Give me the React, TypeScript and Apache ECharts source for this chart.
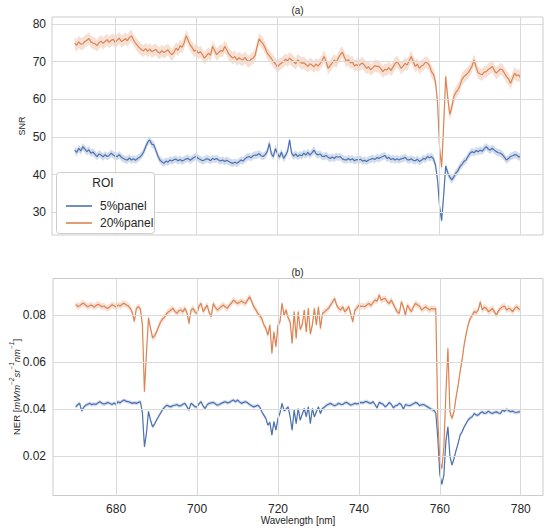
import React, { useEffect, useRef } from "react";
import * as echarts from "echarts";

const WAVELENGTH = [
  670, 670.5, 671, 671.5, 672, 672.5, 673, 673.5, 674, 674.5,
  675, 675.5, 676, 676.5, 677, 677.5, 678, 678.5, 679, 679.5,
  680, 680.5, 681, 681.5, 682, 682.5, 683, 683.5, 684, 684.5,
  685, 685.5, 686, 686.5, 687, 687.5, 688, 688.5, 689, 689.5,
  690, 690.5, 691, 691.5, 692, 692.5, 693, 693.5, 694, 694.5,
  695, 695.5, 696, 696.5, 697, 697.5, 698, 698.5, 699, 699.5,
  700, 700.5, 701, 701.5, 702, 702.5, 703, 703.5, 704, 704.5,
  705, 705.5, 706, 706.5, 707, 707.5, 708, 708.5, 709, 709.5,
  710, 710.5, 711, 711.5, 712, 712.5, 713, 713.5, 714, 714.5,
  715, 715.5, 716, 716.5, 717, 717.5, 718, 718.5, 719, 719.5,
  720, 720.5, 721, 721.5, 722, 722.5, 723, 723.5, 724, 724.5,
  725, 725.5, 726, 726.5, 727, 727.5, 728, 728.5, 729, 729.5,
  730, 730.5, 731, 731.5, 732, 732.5, 733, 733.5, 734, 734.5,
  735, 735.5, 736, 736.5, 737, 737.5, 738, 738.5, 739, 739.5,
  740, 740.5, 741, 741.5, 742, 742.5, 743, 743.5, 744, 744.5,
  745, 745.5, 746, 746.5, 747, 747.5, 748, 748.5, 749, 749.5,
  750, 750.5, 751, 751.5, 752, 752.5, 753, 753.5, 754, 754.5,
  755, 755.5, 756, 756.5, 757, 757.5, 758, 758.5, 759, 759.5,
  760, 760.5, 761, 761.5, 762, 762.5, 763, 763.5, 764, 764.5,
  765, 765.5, 766, 766.5, 767, 767.5, 768, 768.5, 769, 769.5,
  770, 770.5, 771, 771.5, 772, 772.5, 773, 773.5, 774, 774.5,
  775, 775.5, 776, 776.5, 777, 777.5, 778, 778.5, 779, 779.5,
  780,
];

const SNR_20 = [
  74.9, 74.3, 75.2, 74.6, 74.7, 75.3, 75.6, 76.1, 75.2, 74.9,
  74.7, 74.2, 75.0, 75.4, 74.8, 75.3, 75.8, 75.1, 75.6, 75.9,
  75.0, 75.7, 76.2, 75.3, 75.6, 76.1, 75.5, 76.4, 76.8, 75.7,
  74.9, 74.2, 73.6, 73.1, 72.8, 73.4, 72.7, 73.3, 72.6, 72.9,
  73.2, 72.5, 72.2, 72.9, 72.4, 72.7, 73.1, 72.3, 71.8, 72.5,
  73.5, 73.0, 74.2, 73.8, 75.0, 76.8, 75.6, 74.4, 73.6, 72.7,
  73.1, 72.2, 72.6, 71.8, 70.9, 71.5, 72.2, 71.6, 74.0, 73.0,
  71.8, 72.4, 72.9, 72.7, 74.0, 73.1, 72.0, 71.4, 70.9, 71.3,
  70.4, 71.0, 70.6, 70.4, 71.1, 70.3, 70.0, 70.6, 70.9, 71.6,
  74.0, 76.0, 75.2, 74.6, 73.5, 72.2, 71.5, 70.8, 70.0, 69.4,
  68.5, 69.2, 69.6, 70.0, 70.6, 70.2, 70.9, 70.4, 70.0, 69.4,
  70.4, 70.0, 69.5, 69.7, 69.2, 68.7, 69.4, 69.1, 68.6, 69.3,
  68.8, 69.4, 70.2, 71.3, 70.1, 68.2, 68.9, 69.6, 70.4, 69.8,
  70.9, 71.8, 72.5, 71.2, 70.0, 70.5, 69.6, 69.9, 68.8, 69.2,
  68.8, 69.3, 69.6, 68.9, 68.2, 68.6, 67.8, 68.3, 68.9, 68.7,
  68.7, 68.1, 67.3, 67.9, 67.8, 68.4, 67.6, 68.5, 69.4, 70.0,
  69.2, 68.2, 68.8, 69.5, 69.1, 70.2, 71.3, 70.0, 68.7, 69.3,
  68.2, 68.8, 69.1, 69.8, 69.6, 68.9, 67.3, 66.5, 64.5, 59.0,
  47.0, 42.0, 53.0, 66.0, 60.5, 56.0, 57.8, 60.7, 61.8, 62.5,
  63.6, 65.2, 66.0, 66.5, 67.0, 67.8, 68.8, 70.4, 68.5, 67.0,
  66.7, 66.5, 67.2, 67.3, 67.9, 68.2, 68.7, 67.6, 66.9, 67.5,
  68.0, 67.8, 66.9, 66.0, 65.4, 64.2, 65.6, 66.9, 66.2, 66.5,
  65.6,
];

const SNR_5 = [
  46.5, 45.9, 47.0, 46.3, 47.4, 46.8, 46.1, 46.6, 45.7, 46.0,
  45.4, 44.8, 45.5, 45.2, 44.7, 45.3, 44.8, 45.1, 45.7, 45.2,
  44.9, 44.8, 45.3, 44.6, 44.3, 44.0, 43.9, 44.4, 43.9, 44.2,
  43.8, 44.3, 44.6, 45.2, 46.0, 47.4, 48.6, 49.2, 48.1, 47.9,
  46.5, 45.0, 43.9, 43.4, 43.0, 43.6, 43.3, 43.9, 43.6, 44.0,
  44.1, 43.7, 44.0, 43.6, 43.9, 44.2, 44.3, 43.8, 44.2, 44.6,
  44.8, 44.3, 44.0, 43.7, 43.9, 44.2, 44.1, 43.7, 44.3, 44.0,
  44.3, 43.9, 43.6, 43.9, 43.5, 43.8, 43.5, 43.2, 43.0, 43.3,
  43.0, 43.4, 43.9, 43.6, 44.2, 44.6, 44.8, 44.5, 45.0, 45.2,
  45.2, 45.6, 45.0, 44.8, 45.3, 46.1, 48.3, 45.5, 44.8, 46.9,
  45.7, 44.6, 46.0, 44.3, 45.1, 46.2, 49.2, 45.7, 44.9, 45.5,
  44.8, 45.3, 45.0, 45.7, 45.2, 45.9, 45.2, 45.8, 46.5, 45.6,
  45.2, 45.5, 44.9, 44.8, 45.1, 44.6, 44.3, 44.7, 44.3, 44.8,
  44.6, 44.8, 44.2, 44.0, 43.9, 44.3, 43.9, 44.2, 43.7, 44.0,
  43.9, 44.1, 43.6, 43.8, 43.5, 43.9, 44.1, 44.3, 44.0, 44.5,
  44.3, 44.6, 44.8, 45.1, 44.3, 44.6, 44.0, 44.3, 43.9, 44.2,
  43.9, 44.2, 44.3, 44.6, 44.0, 43.9, 44.2, 43.8, 43.7, 44.1,
  43.5, 43.8, 44.3, 44.1, 44.8, 44.5, 44.8, 44.2, 42.5, 38.5,
  31.5, 27.8, 34.5, 42.3, 40.5, 39.4, 38.6, 39.4, 40.4, 41.0,
  42.1, 42.7, 43.5, 43.9, 44.8, 45.7, 46.1, 45.8, 46.4, 46.1,
  46.5, 46.2, 46.9, 47.4, 46.8, 46.5, 47.0, 46.5, 46.1, 45.8,
  45.7, 45.3, 44.6, 43.9, 44.3, 44.8, 45.0, 45.3, 45.2, 44.7,
  44.8,
];

const NER_20 = [
  0.0847, 0.0838, 0.0841, 0.0849, 0.0851, 0.0843, 0.0837, 0.0842, 0.0844, 0.0835,
  0.0841, 0.0847, 0.0843, 0.0837, 0.084, 0.0833, 0.083, 0.0838, 0.0845, 0.0841,
  0.0836, 0.0844, 0.084, 0.0848, 0.0851, 0.0845, 0.0841, 0.083, 0.0812, 0.0775,
  0.083, 0.0837, 0.0828, 0.076, 0.0475, 0.064, 0.079, 0.0745, 0.0705, 0.0712,
  0.073, 0.0752, 0.0773, 0.0785, 0.0794, 0.0808, 0.0816, 0.0822, 0.083, 0.0818,
  0.0809, 0.082, 0.0823, 0.0815, 0.083, 0.0812, 0.0766, 0.0822, 0.083, 0.0815,
  0.0809, 0.084, 0.0851, 0.0816, 0.083, 0.0844, 0.0812, 0.0794, 0.0851, 0.0835,
  0.0823, 0.083, 0.0838, 0.0844, 0.0836, 0.083, 0.0844, 0.0852, 0.0865, 0.0858,
  0.0851, 0.0856, 0.0861, 0.0855, 0.0851, 0.0866, 0.0879, 0.086, 0.0837, 0.0825,
  0.0809, 0.0798, 0.0787, 0.076, 0.0745, 0.0716, 0.0759, 0.0638, 0.073, 0.0667,
  0.0759, 0.0773, 0.0851, 0.0801, 0.0823, 0.079, 0.0773, 0.0681, 0.0816, 0.0702,
  0.0816, 0.074, 0.076, 0.0823, 0.073, 0.083, 0.072, 0.076, 0.083, 0.0759,
  0.0837, 0.0745, 0.0809, 0.0815, 0.0823, 0.083, 0.0844, 0.0858, 0.0872, 0.0844,
  0.083, 0.0823, 0.0837, 0.0816, 0.0825, 0.0837, 0.0805, 0.0773, 0.0823, 0.083,
  0.0844, 0.0838, 0.084, 0.0837, 0.0845, 0.0851, 0.0842, 0.0855, 0.0865, 0.086,
  0.0887, 0.0865, 0.087, 0.0872, 0.0858, 0.0851, 0.0865, 0.0848, 0.083, 0.0815,
  0.0809, 0.0858, 0.0835, 0.0801, 0.0844, 0.0828, 0.0816, 0.0838, 0.0851, 0.0844,
  0.084, 0.0823, 0.083, 0.0837, 0.0829, 0.0823, 0.083, 0.0826, 0.083, 0.036,
  0.018, 0.0149, 0.024, 0.047, 0.066, 0.039, 0.0362, 0.039, 0.045, 0.05,
  0.056, 0.061, 0.0674, 0.072, 0.076, 0.0787, 0.08, 0.0816, 0.0812, 0.0823,
  0.0858, 0.0823, 0.0835, 0.083, 0.0816, 0.0822, 0.083, 0.0815, 0.0801, 0.082,
  0.083, 0.0837, 0.084, 0.0823, 0.083, 0.0826, 0.0816, 0.083, 0.0837, 0.0828,
  0.0823,
];

const NER_5 = [
  0.0411, 0.042, 0.0426, 0.0393, 0.041, 0.0418, 0.0422, 0.0426, 0.042, 0.0424,
  0.0421, 0.0428, 0.0433, 0.0426, 0.0423, 0.0426, 0.043, 0.0425, 0.0421, 0.0428,
  0.0421, 0.0433, 0.0428, 0.0436, 0.044, 0.0434, 0.0433, 0.043, 0.0426, 0.0429,
  0.0426, 0.043, 0.0433, 0.0385, 0.0241, 0.03, 0.0392, 0.0355, 0.0326, 0.0338,
  0.0355, 0.037, 0.0385, 0.04, 0.041, 0.0418, 0.0414, 0.0411, 0.0416, 0.0418,
  0.0421, 0.0415, 0.0416, 0.0422, 0.0426, 0.0412, 0.0397, 0.0426, 0.042, 0.0411,
  0.0411, 0.0425, 0.0433, 0.0415, 0.0404, 0.042, 0.0426, 0.0428, 0.043, 0.0424,
  0.0418, 0.0421, 0.0426, 0.043, 0.0433, 0.0428, 0.043, 0.0436, 0.044, 0.0432,
  0.044, 0.0432, 0.0426, 0.043, 0.0433, 0.0428, 0.0421, 0.0416, 0.0411, 0.0414,
  0.0418, 0.041, 0.039, 0.0376, 0.0362, 0.0333, 0.0345, 0.0291, 0.0348, 0.0312,
  0.0362, 0.0385, 0.0426, 0.0395, 0.04, 0.0411, 0.0369, 0.0312, 0.0397, 0.034,
  0.0404, 0.0355, 0.038, 0.0404, 0.0369, 0.0411, 0.034, 0.0404, 0.0369, 0.039,
  0.0411, 0.0383, 0.0404, 0.041, 0.0418, 0.0422, 0.0426, 0.042, 0.0416, 0.042,
  0.0426, 0.0422, 0.0421, 0.0428, 0.043, 0.0424, 0.0418, 0.0422, 0.0426, 0.0424,
  0.0426, 0.043, 0.0428, 0.0433, 0.0433, 0.0428, 0.0426, 0.0433, 0.042, 0.0407,
  0.043, 0.0426, 0.0422, 0.0411, 0.0418, 0.043, 0.0422, 0.0407, 0.0415, 0.0418,
  0.0426, 0.042, 0.0401, 0.0421, 0.0418, 0.0416, 0.042, 0.0424, 0.043, 0.0426,
  0.0416, 0.042, 0.0421, 0.0416, 0.0411, 0.0405, 0.04, 0.0397, 0.0385, 0.028,
  0.0125, 0.0081, 0.012, 0.0265, 0.0326, 0.02, 0.0163, 0.0191, 0.0225, 0.0255,
  0.029, 0.0305, 0.0325, 0.034, 0.0355, 0.0364, 0.0369, 0.0383, 0.0376, 0.0376,
  0.0385, 0.039, 0.0383, 0.0385, 0.0393, 0.0386, 0.0383, 0.0388, 0.039, 0.0385,
  0.0383, 0.0397, 0.0392, 0.0401, 0.0395, 0.039, 0.0393, 0.0388, 0.0387, 0.039,
  0.039,
];

// half-widths of the shaded confidence bands
const SNR_5_CI = 1.0;
const SNR_20_CI = 1.6;
const NER_5_CI = 0.0008;
const NER_20_CI = 0.0014;

const X_TICKS = [680, 700, 720, 740, 760, 780];
const SNR_TICKS = [30, 40, 50, 60, 70, 80];
const NER_TICKS = [0.02, 0.04, 0.06, 0.08];
const SERIES_NAMES = ["5%panel", "20%panel"];
const PANEL_TITLES = ["(a)", "(b)"];

const BLUE = "#4c72b0";
const ORANGE = "#dd8452";
const BLUE_BAND = "rgba(76,114,176,0.25)";
const ORANGE_BAND = "rgba(221,132,82,0.25)";
const GRID_COLOR = "#dadada";
const TEXT = "#262626";
const FONT = "'Liberation Sans', Arial, Helvetica, sans-serif";

const pairs = (vals: number[]) => WAVELENGTH.map((x, i) => [x, vals[i]]);

function bandSeries(vals: number[], ci: number, color: string, axis: number) {
  return {
    type: "custom",
    name: "band",
    xAxisIndex: axis,
    yAxisIndex: axis,
    data: [[WAVELENGTH[0], vals[0]]],
    silent: true,
    clip: true,
    z: 1,
    renderItem: (_params: any, api: any) => {
      const upper = WAVELENGTH.map((x, i) => api.coord([x, vals[i] + ci]));
      const lower = WAVELENGTH.map((x, i) => api.coord([x, vals[i] - ci])).reverse();
      return {
        type: "polygon",
        silent: true,
        shape: { points: upper.concat(lower) },
        style: { fill: color, stroke: "none" },
      };
    },
  };
}

function mainLine(name: string, vals: number[], color: string, axis: number) {
  return {
    type: "line",
    name,
    xAxisIndex: axis,
    yAxisIndex: axis,
    data: pairs(vals),
    symbol: "none",
    color,
    lineStyle: { color, width: 1.2 },
    z: 3,
  };
}

function gridLines(axis: number, yTicks: number[]) {
  return {
    type: "line",
    name: "grid" + axis,
    xAxisIndex: axis,
    yAxisIndex: axis,
    data: [],
    silent: true,
    z: 0,
    markLine: {
      silent: true,
      symbol: "none",
      animation: false,
      label: { show: false },
      lineStyle: { color: GRID_COLOR, width: 1, type: "solid" },
      data: [
        ...X_TICKS.map((v) => ({ xAxis: v })),
        ...yTicks.map((v) => ({ yAxis: v })),
      ],
    },
  };
}

const X_MIN = 664.4;
const X_MAX = 785.5;

export default function App() {
  const ref = useRef<HTMLDivElement>(null);

  useEffect(() => {
    if (!ref.current) return;
    const chart = echarts.init(ref.current, undefined, { renderer: "svg" });

    const axisLabelStyle = { fontSize: 12, color: TEXT, fontFamily: FONT };

    const option: any = {
      animation: false,
      backgroundColor: "#ffffff",
      textStyle: { fontFamily: FONT },
      grid: [
        { left: 52, top: 17, width: 491, height: 218, show: true, borderColor: "#cccccc", borderWidth: 1, backgroundColor: "transparent" },
        { left: 52, top: 278.5, width: 491, height: 217, show: true, borderColor: "#cccccc", borderWidth: 1, backgroundColor: "transparent" },
      ],
      xAxis: [
        {
          type: "value",
          gridIndex: 0,
          min: X_MIN,
          max: X_MAX,
          axisLine: { show: false },
          axisTick: { show: false },
          splitLine: { show: false },
          axisLabel: { show: false },
        },
        {
          type: "value",
          gridIndex: 1,
          min: X_MIN,
          max: X_MAX,
          axisLine: { show: false },
          axisTick: { show: false },
          splitLine: { show: false },
          axisLabel: { ...axisLabelStyle, margin: 7, customValues: X_TICKS },
          name: "Wavelength [nm]",
          nameLocation: "middle",
          nameGap: 20,
          nameMoveOverlap: false,
          nameTextStyle: { fontSize: 10, color: TEXT, fontFamily: FONT },
        },
      ],
      yAxis: [
        {
          type: "value",
          gridIndex: 0,
          min: 24,
          max: 81.8,
          axisLine: { show: false },
          axisTick: { show: false },
          splitLine: { show: false },
          axisLabel: { ...axisLabelStyle, margin: 6, customValues: SNR_TICKS },
          name: "SNR",
          nameLocation: "middle",
          nameGap: 26,
          nameMoveOverlap: false,
          nameTextStyle: { fontSize: 9, color: TEXT, fontFamily: FONT },
        },
        {
          type: "value",
          gridIndex: 1,
          min: 0.0034,
          max: 0.0957,
          axisLine: { show: false },
          axisTick: { show: false },
          splitLine: { show: false },
          axisLabel: {
            ...axisLabelStyle,
            margin: 7,
            customValues: NER_TICKS,
            formatter: (v: number) => v.toFixed(2),
          },
          name: "{n|NER [}{i|mWm}{s|−2}{i|sr}{s|−1}{i|nm}{s|−1}{n|]}",
          nameLocation: "middle",
          nameGap: 32,
          nameMoveOverlap: false,
          nameTextStyle: {
            color: TEXT,
            rich: {
              n: { fontSize: 9.5, fontFamily: FONT, color: TEXT, lineHeight: 13, verticalAlign: "bottom" },
              i: { fontSize: 9.5, fontFamily: FONT, fontStyle: "italic", color: TEXT, lineHeight: 13, verticalAlign: "bottom" },
              s: { fontSize: 6.5, fontFamily: FONT, fontStyle: "italic", color: TEXT, lineHeight: 13, verticalAlign: "top" },
            },
          },
        },
      ],
      legend: {
        data: SERIES_NAMES,
        orient: "vertical",
        left: 61,
        top: 194,
        itemWidth: 26,
        itemHeight: 1.6,
        icon: "rect",
        itemGap: 3,
        selectedMode: false,
        z: 20,
        textStyle: { fontSize: 12, color: TEXT, fontFamily: FONT, lineHeight: 14, padding: [0, 0, 0, 3] },
      },
      graphic: [
        {
          type: "rect",
          z: 10,
          shape: { x: 56.5, y: 172.5, width: 98, height: 61, r: 3 },
          style: { fill: "rgba(255,255,255,0.85)", stroke: "#cccccc", lineWidth: 1 },
        },
        {
          type: "text",
          z: 11,
          x: 103,
          y: 183,
          style: { text: "ROI", fontSize: 12, fill: TEXT, fontFamily: FONT, align: "center", verticalAlign: "middle" },
        },
        {
          type: "text",
          x: 297.5,
          y: 10.5,
          style: { text: PANEL_TITLES[0], fontSize: 10, fill: TEXT, fontFamily: FONT, align: "center", verticalAlign: "middle" },
        },
        {
          type: "text",
          x: 297.5,
          y: 272,
          style: { text: PANEL_TITLES[1], fontSize: 10, fill: TEXT, fontFamily: FONT, align: "center", verticalAlign: "middle" },
        },
      ],
      series: [
        gridLines(0, SNR_TICKS),
        gridLines(1, NER_TICKS),
        bandSeries(SNR_5, SNR_5_CI, BLUE_BAND, 0),
        bandSeries(SNR_20, SNR_20_CI, ORANGE_BAND, 0),
        bandSeries(NER_5, NER_5_CI, BLUE_BAND, 1),
        bandSeries(NER_20, NER_20_CI, ORANGE_BAND, 1),
        mainLine(SERIES_NAMES[0], SNR_5, BLUE, 0),
        mainLine(SERIES_NAMES[1], SNR_20, ORANGE, 0),
        mainLine(SERIES_NAMES[0], NER_5, BLUE, 1),
        mainLine(SERIES_NAMES[1], NER_20, ORANGE, 1),
      ],
    };

    chart.setOption(option);
    return () => chart.dispose();
  }, []);

  return (
    <div
      ref={ref}
      style={{ position: "absolute", left: 0, top: 0, width: 550, height: 532, background: "#ffffff" }}
    />
  );
}
